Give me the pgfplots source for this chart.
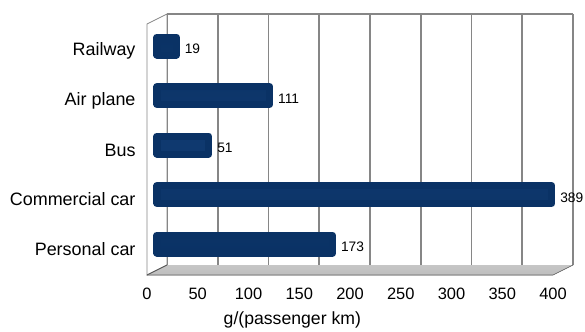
\documentclass[border=0pt]{standalone}
\usepackage{pgfplots}
\pgfplotsset{compat=1.18}
\usepackage{fontspec}
\setmainfont{Liberation Sans}

\definecolor{gridgrey}{HTML}{868686}
\definecolor{floorgrey}{HTML}{BEBEBE}
\definecolor{floorlight}{HTML}{C6C6C6}
\definecolor{barbody}{HTML}{0A3265}
\definecolor{barmid}{HTML}{0F396F}

% emission factors, g per passenger km (0 = Personal car ... 4 = Railway)
\pgfplotstableread{
value pos
173 0
389 1
51  2
111 3
19  4
}\emissions

\begin{document}
\begin{tikzpicture}
% front plane: ticks, category labels, walls and floor
\begin{axis}[
  x=1.015bp, y=49.5bp,
  xmin=0, xmax=400, ymin=-0.525, ymax=4.545,
  clip=false,
  axis line style={draw=none},
  tick style={draw=none},
  xtick={0,50,...,400},
  ytick={0,1,2,3,4},
  yticklabels={Personal car,Commercial car,Bus,Air plane,Railway},
  /pgf/number format/assume math mode=true,
  xticklabel style={font=\fontsize{16.5}{18}\selectfont, yshift=-9.5bp},
  yticklabel style={font=\fontsize{18}{20}\selectfont, xshift=-8bp},
  xlabel={g/(passenger km)},
  xlabel style={font=\fontsize{17.7}{20}\selectfont, at={(axis description cs:0.358,0)}, anchor=north, yshift=-33bp},
]
  \coordinate (O) at (axis cs:0,-0.525);
  % back wall gridlines
  \pgfplotsinvokeforeach{0,50,...,400}{
    \draw[gridgrey, line width=1.6bp, shift={(20bp,10bp)}] (axis cs:#1,-0.525) -- (axis cs:#1,4.545);
  }
  \draw[gridgrey, line width=1.2bp, shift={(20bp,10bp)}] (axis cs:0,4.545) -- (axis cs:400,4.545);
  % floor
  \fill[top color=floorlight, bottom color=floorgrey]
    (axis cs:0,-0.525) -- (axis cs:400,-0.525)
    -- ([shift={(20bp,10bp)}]axis cs:400,-0.525)
    -- ([shift={(20bp,10bp)}]axis cs:0,-0.525) -- cycle;
  \draw[gray!80!black, line width=0.6bp] (axis cs:0,-0.525) -- (axis cs:400,-0.525)
    -- ([shift={(20bp,10bp)}]axis cs:400,-0.525);
  % left side wall
  \filldraw[fill=white, draw=gridgrey, line width=0.8bp]
    (axis cs:0,-0.525) -- (axis cs:0,4.545)
    -- ([shift={(20bp,10bp)}]axis cs:0,4.545)
    -- ([shift={(20bp,10bp)}]axis cs:0,-0.525) -- cycle;
  \draw[gray!70!black, line width=0.8bp] (axis cs:0,-0.525) -- ([shift={(20bp,10bp)}]axis cs:0,-0.525);
\end{axis}

% bars sit halfway into the depth of the chart
\begin{axis}[
  at={(10bp,5bp)},
  x=1.015bp, y=49.5bp,
  xmin=0, xmax=400, ymin=-0.525, ymax=4.545,
  clip=false,
  hide axis,
  /pgf/number format/assume math mode=true,
]
  \addplot[
    xbar, bar width=18bp,
    draw=barbody, line width=7bp, line join=round,
    top color=barbody, bottom color=barbody, middle color=barmid,
    nodes near coords,
    every node near coord/.append style={
      font=\fontsize{13.8}{16}\selectfont, anchor=west, inner sep=0pt,
      xshift=5bp, yshift=-3bp, black},
  ] table[x=value, y=pos] {\emissions};
\end{axis}

\pgfresetboundingbox
\path ([shift={(-147bp,-57bp)}]O) rectangle ++(585bp,332bp);
\end{tikzpicture}
\end{document}
